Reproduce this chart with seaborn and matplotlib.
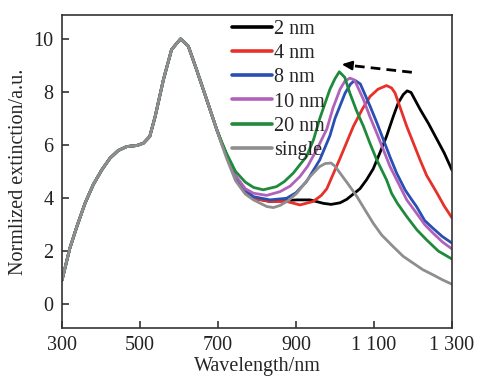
import numpy as np
import pandas as pd
import matplotlib
matplotlib.use("Agg")
import matplotlib.pyplot as plt
import seaborn as sns

# ---- data ----
common_wl = [300, 320, 338, 359, 380, 402, 423, 444, 466, 492, 509, 525, 539,
             560, 581, 604, 624, 645, 671, 697]
common_ext = [0.9, 2.1, 2.92, 3.80, 4.50, 5.06, 5.50, 5.79, 5.94, 5.98, 6.07,
              6.32, 7.08, 8.46, 9.60, 10.0, 9.72, 8.84, 7.71, 6.57]

wl_2nm = [710, 722, 745, 770, 791, 833, 876, 902, 936, 970, 990, 1013, 1030,
          1047, 1064, 1081, 1098, 1115, 1132, 1150, 1162, 1175, 1185, 1195,
          1218, 1240, 1260, 1280, 1300]
ext_2nm = [6.05, 5.62, 4.78, 4.25, 3.99, 3.87, 3.90, 3.93, 3.93, 3.80, 3.76,
           3.82, 3.95, 4.15, 4.35, 4.69, 5.10, 5.70, 6.32, 7.10, 7.58, 7.90,
           8.04, 7.98, 7.35, 6.80, 6.25, 5.70, 5.05]

wl_4nm = [710, 722, 745, 770, 791, 833, 876, 910, 944, 965, 979, 1000, 1013,
          1047, 1070, 1090, 1110, 1132, 1145, 1154, 1184, 1218, 1235, 1261,
          1280, 1300]
ext_4nm = [6.05, 5.62, 4.78, 4.25, 3.99, 3.87, 3.87, 3.74, 3.87, 4.10, 4.35,
           5.06, 5.50, 6.70, 7.35, 7.83, 8.10, 8.24, 8.15, 7.96, 6.70, 5.44,
           4.85, 4.20, 3.70, 3.25]

wl_8nm = [710, 722, 745, 770, 791, 833, 876, 900, 927, 961, 987, 1000, 1026,
          1040, 1051, 1065, 1090, 1107, 1124, 1141, 1158, 1180, 1197, 1209,
          1230, 1252, 1275, 1300]
ext_8nm = [6.05, 5.62, 4.80, 4.30, 4.05, 3.93, 3.99, 4.20, 4.62, 5.44, 6.35,
           7.00, 7.96, 8.30, 8.44, 8.30, 7.46, 6.85, 6.20, 5.55, 4.94, 4.30,
           3.93, 3.68, 3.15, 2.85, 2.55, 2.30]

wl_10nm = [710, 722, 745, 770, 791, 825, 859, 885, 910, 930, 953, 979, 995,
           1013, 1025, 1038, 1050, 1073, 1090, 1107, 1124, 1141, 1158, 1184,
           1209, 1230, 1252, 1275, 1300]
ext_10nm = [6.05, 5.62, 4.85, 4.35, 4.18, 4.10, 4.24, 4.45, 4.81, 5.20, 5.82,
            6.60, 7.40, 8.10, 8.40, 8.52, 8.45, 7.71, 7.05, 6.45, 5.82, 5.19,
            4.69, 3.93, 3.43, 3.00, 2.67, 2.35, 2.08]

wl_20nm = [710, 722, 745, 770, 791, 816, 850, 870, 893, 927, 945, 961, 987,
           1000, 1011, 1025, 1038, 1055, 1073, 1090, 1107, 1132, 1145, 1160,
           1184, 1210, 1235, 1265, 1300]
ext_20nm = [6.10, 5.68, 5.00, 4.60, 4.40, 4.31, 4.43, 4.62, 4.94, 5.57, 6.20,
            7.00, 8.10, 8.50, 8.76, 8.55, 7.96, 7.30, 6.70, 6.05, 5.44, 4.69,
            4.18, 3.80, 3.30, 2.80, 2.42, 2.00, 1.70]

wl_single = [710, 722, 745, 770, 791, 825, 842, 859, 880, 902, 936, 960, 975,
             990, 1000, 1013, 1030, 1047, 1056, 1075, 1098, 1120, 1149, 1175,
             1201, 1225, 1252, 1275, 1300]
ext_single = [6.0, 5.50, 4.65, 4.15, 3.93, 3.68, 3.64, 3.72, 3.90, 4.18, 4.81,
              5.18, 5.30, 5.32, 5.20, 4.94, 4.60, 4.25, 4.06, 3.60, 3.05, 2.60,
              2.17, 1.80, 1.54, 1.30, 1.10, 0.92, 0.75]

labels = ["2 nm", "4 nm", "8 nm", "10 nm", "20 nm", "single"]
colors = ["#000000", "#e8302a", "#2a4fb3", "#b062bb", "#1f8a3c", "#8e8e8e"]
tails = [(wl_2nm, ext_2nm), (wl_4nm, ext_4nm), (wl_8nm, ext_8nm),
         (wl_10nm, ext_10nm), (wl_20nm, ext_20nm), (wl_single, ext_single)]

xticks = [300, 500, 700, 900, 1100, 1300]
xticklabels = ["300", "500", "700", "900", "1 100", "1 300"]
yticks = [0, 2, 4, 6, 8, 10]

rows = []
for lab, (w, e) in zip(labels, tails):
    for x, y in zip(common_wl + w, common_ext + e):
        rows.append({"Wavelength": x, "Extinction": y, "sample": lab})
df = pd.DataFrame(rows)

# ---- style ----
sns.set_theme(style="ticks")
plt.rcParams["font.family"] = ["Liberation Serif", "DejaVu Serif"]

fig = plt.figure(figsize=(4.94, 3.90), dpi=100)
ax = fig.add_axes([62 / 494, 1 - 328 / 390, 390 / 494, 313 / 390])

sns.lineplot(data=df, x="Wavelength", y="Extinction", hue="sample",
             hue_order=labels, palette=colors, sort=False, estimator=None,
             linewidth=2.0, ax=ax)
for ln in ax.get_lines():
    ln.set_solid_joinstyle("round")
    ln.set_solid_capstyle("round")

# dashed arrow indicating blue shift
ax.plot([1197, 1038], [8.74, 9.0], color="black", lw=2.0, ls=(0, (3.5, 2.2)))
ax.annotate("", xy=(1017, 9.04), xytext=(1042, 9.0),
            arrowprops=dict(arrowstyle="-|>,head_length=0.5,head_width=0.22",
                            color="black", lw=1.6, shrinkA=0, shrinkB=0))

ax.set_xlim(300, 1300)
ax.set_ylim(-0.9, 10.9)
ax.set_xticks(xticks)
ax.set_xticklabels(xticklabels)
ax.set_yticks(yticks)
ax.tick_params(direction="in", length=5, width=1.1, labelsize=14.5,
               colors="#222222", pad=6)
for sp in ax.spines.values():
    sp.set_linewidth(1.2)
    sp.set_color("#333333")
    sp.set_visible(True)

ax.set_xlabel("Wavelength/nm", fontsize=14.5, labelpad=1)
ax.set_ylabel("Normlized extinction/a.u.", fontsize=14.5, labelpad=4)

leg = ax.legend(loc="upper left", bbox_to_anchor=(0.435, 0.984), frameon=False,
                fontsize=14.5, handlelength=2.0, handletextpad=0.1,
                labelspacing=0.25, borderpad=0.0, borderaxespad=0.0)
for h in leg.get_lines():
    h.set_linewidth(2.6)

fig.savefig("out.png", dpi=100)
